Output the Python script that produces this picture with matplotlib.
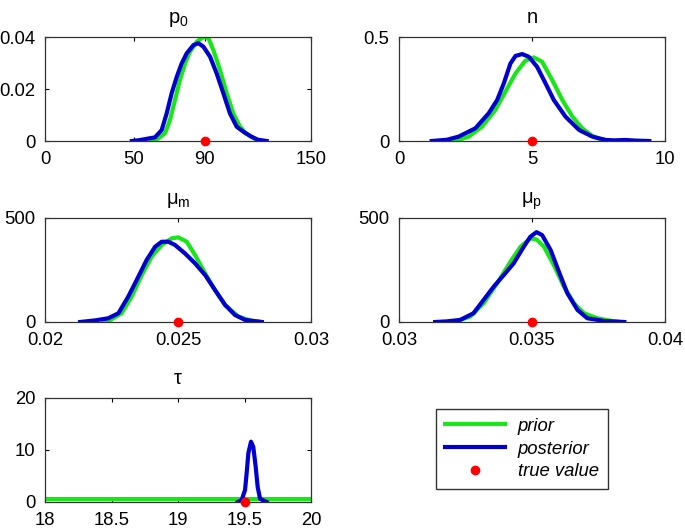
import matplotlib.pyplot as plt
import numpy as np

plt.rcParams['font.family'] = ['Liberation Sans', 'DejaVu Sans']
plt.rcParams['mathtext.default'] = 'regular'

# p0
p0_prior_x = [60, 64, 67.7, 70.5, 73.3, 76.1, 79, 81.8, 85.6, 89.3, 92.1, 94.9, 98.7, 102.5, 106.2, 110, 113, 116, 119, 121]
p0_prior_y = [0, 0.001, 0.003, 0.0081, 0.0158, 0.0235, 0.0299, 0.0344, 0.0382, 0.0400, 0.0397, 0.035, 0.0273, 0.0183, 0.0106, 0.0055, 0.0032, 0.0018, 0.0006, 0]
p0_post_x = [49, 53, 57, 62, 65.8, 68.6, 71.4, 74.3, 77.1, 79.9, 83.7, 86.5, 89.3, 93.1, 96.8, 100.6, 104.3, 108.1, 112, 116, 120, 125]
p0_post_y = [0, 0.0003, 0.0008, 0.0014, 0.0042, 0.0106, 0.0183, 0.0247, 0.0299, 0.0337, 0.0369, 0.0376, 0.0363, 0.0324, 0.026, 0.0183, 0.0106, 0.0055, 0.0035, 0.0018, 0.0005, 0]

# n
n_prior_x = [1.99, 2.3, 2.62, 3.12, 3.62, 4.0, 4.38, 4.75, 5.07, 5.38, 5.76, 6.14, 6.52, 6.89, 7.27, 7.5, 7.77, 7.95]
n_prior_y = [0, 0.008, 0.021, 0.069, 0.149, 0.237, 0.325, 0.386, 0.402, 0.381, 0.293, 0.197, 0.117, 0.061, 0.024, 0.012, 0.005, 0]
n_post_x = [1.23, 1.8, 2.24, 2.87, 3.37, 3.69, 3.94, 4.19, 4.38, 4.63, 4.88, 5.19, 5.51, 5.82, 6.26, 6.77, 7.27, 7.77, 8.1, 8.5, 8.9, 9.41]
n_post_y = [0, 0.006, 0.021, 0.061, 0.133, 0.197, 0.277, 0.373, 0.409, 0.418, 0.405, 0.357, 0.277, 0.197, 0.117, 0.053, 0.021, 0.005, 0.003, 0.005, 0.002, 0]

# mu_m
mm_prior_x = [0.0222, 0.02238, 0.02288, 0.02326, 0.02364, 0.02401, 0.02439, 0.02476, 0.02501, 0.02533, 0.02564,
              0.02602, 0.02639, 0.02677, 0.02727, 0.02777, 0.02815]
mm_prior_y = [0, 4, 42, 122, 226, 314, 370, 402, 407, 386, 322, 234, 154, 82, 26, 6, 0]
mm_post_x = [0.02132, 0.0219, 0.02238, 0.02276, 0.02313, 0.02351, 0.02382, 0.02414, 0.02439, 0.02464, 0.02489,
             0.02526, 0.02564, 0.02602, 0.02639, 0.02677, 0.02714, 0.02752, 0.02815]
mm_post_y = [0, 8, 18, 42, 122, 218, 298, 362, 386, 386, 370, 330, 282, 226, 154, 82, 34, 10, 0]

# mu_p
mp_prior_x = [0.03205, 0.03268, 0.03318, 0.03369, 0.03419, 0.03457, 0.03494, 0.03517, 0.03545, 0.03582, 0.0362,
              0.03658, 0.03696, 0.03746, 0.03809, 0.0383]
mp_prior_y = [0, 26, 90, 186, 290, 362, 402, 397, 362, 274, 170, 90, 42, 18, 3, 0]
mp_post_x = [0.03136, 0.0318, 0.0323, 0.0328, 0.03318, 0.03356, 0.03394, 0.03431, 0.03469, 0.03494, 0.03517,
             0.03538, 0.0357, 0.03601, 0.03633, 0.03671, 0.03708, 0.03771, 0.03847]
mp_post_y = [0, 3, 10, 42, 106, 170, 226, 282, 362, 410, 432, 418, 346, 242, 138, 58, 18, 5, 0]

# tau
tau_prior_x = [18, 20]
tau_prior_y = [0.5, 0.5]
tau_post_x = [19.45, 19.479, 19.504, 19.516, 19.529, 19.549, 19.566, 19.584, 19.599, 19.617, 19.667]
tau_post_y = [0, 0.4, 2.3, 5.5, 9.4, 11.6, 10.6, 6.8, 2.9, 0.6, 0]

true_vals = [90, 5, 0.025, 0.035, 19.5]
titles = ['p$_0$', 'n', 'μ$_m$', 'μ$_p$', 'τ']
xlims = [(0, 150), (0, 10), (0.02, 0.03), (0.03, 0.04), (18, 20)]
xticks = [[0, 50, 90, 150], [0, 5, 10], [0.02, 0.025, 0.03], [0.03, 0.035, 0.04], [18, 18.5, 19, 19.5, 20]]
xticklabels = [['0', '50', '90', '150'], ['0', '5', '10'], ['0.02', '0.025', '0.03'],
               ['0.03', '0.035', '0.04'], ['18', '18.5', '19', '19.5', '20']]
ylims = [(0, 0.04), (0, 0.5), (0, 500), (0, 500), (0, 20)]
yticks = [[0, 0.02, 0.04], [0, 0.5], [0, 500], [0, 500], [0, 10, 20]]
yticklabels = [['0', '0.02', '0.04'], ['0', '0.5'], ['0', '500'], ['0', '500'], ['0', '10', '20']]

priors = [(p0_prior_x, p0_prior_y), (n_prior_x, n_prior_y), (mm_prior_x, mm_prior_y),
          (mp_prior_x, mp_prior_y), (tau_prior_x, tau_prior_y)]
posts = [(p0_post_x, p0_post_y), (n_post_x, n_post_y), (mm_post_x, mm_post_y),
         (mp_post_x, mp_post_y), (tau_post_x, tau_post_y)]

green = '#19e619'
blue = '#0000d0'

fig = plt.figure(figsize=(6.85, 5.29), dpi=100)
W, H = 685, 529
boxes = [(45, 37), (399, 37), (45, 218), (399, 218), (45, 398)]
aw, ah = 266, 104

for i, (l, t) in enumerate(boxes):
    ax = fig.add_axes([l / W, 1 - (t + ah) / H, aw / W, ah / H])
    px, py = priors[i]
    bx, by = posts[i]
    lp, = ax.plot(px, py, color=green, lw=3, solid_joinstyle='round')
    lb, = ax.plot(bx, by, color=blue, lw=3, solid_joinstyle='round')
    ld, = ax.plot([true_vals[i]], [0], 'o', color='red', ms=6, mec='red', clip_on=False, zorder=5)
    ax.set_xlim(*xlims[i])
    ax.set_ylim(*ylims[i])
    ax.set_xticks(xticks[i])
    ax.set_xticklabels(xticklabels[i])
    ax.set_yticks(yticks[i])
    ax.set_yticklabels(yticklabels[i])
    ax.tick_params(direction='in', top=True, right=True, length=3, labelsize=13.3, pad=7)
    for s in ax.spines.values():
        s.set_linewidth(0.9)
        s.set_color('#333333')
    ax.set_title(titles[i], fontsize=14.5, pad=10)

fig.legend([lp, lb, ld], ['prior', 'posterior', 'true value'], loc='center',
           bbox_to_anchor=(522 / W, 1 - 449 / H), prop={'style': 'italic', 'size': 13.3},
           fancybox=False, edgecolor='#333333', framealpha=1, handlelength=3.2,
           handletextpad=0.7, labelspacing=0.3, borderpad=0.5)

fig.savefig('out.png', dpi=100)
